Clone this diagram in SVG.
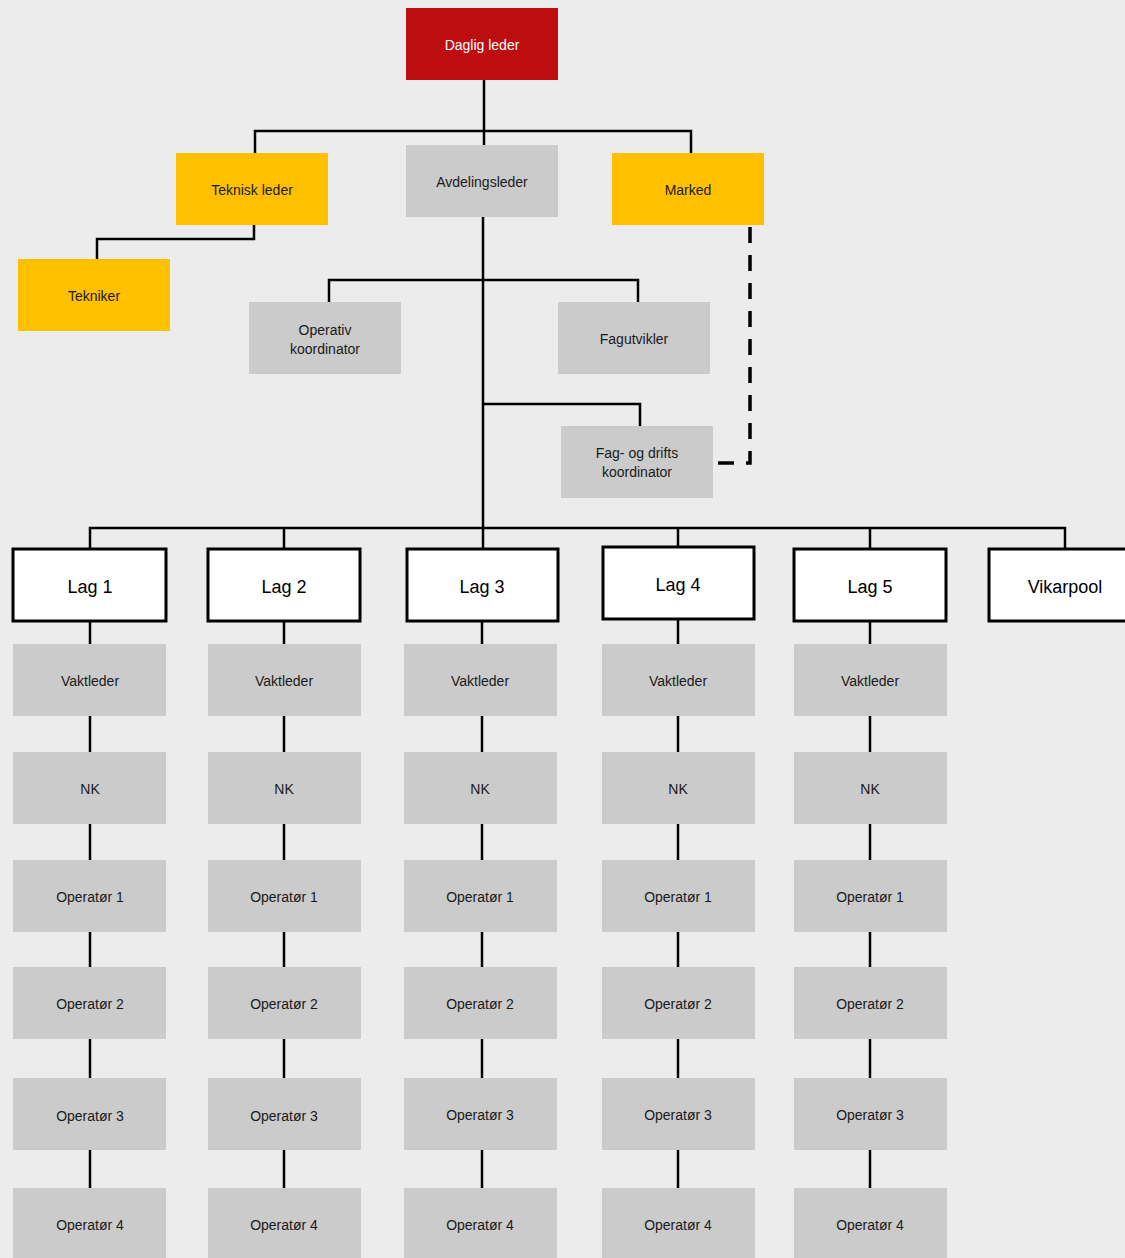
<svg xmlns="http://www.w3.org/2000/svg" width="1125" height="1258" viewBox="0 0 1125 1258">
<defs>
<style>
.bg{fill:#ececec}
.ln{fill:none;stroke:#000;stroke-width:2.5}
.dash{fill:none;stroke:#000;stroke-width:3.5;stroke-dasharray:16 12}
.red{fill:#bc0e10}
.yel{fill:#ffc000}
.gry{fill:#cbcbcb}
.lag{fill:#fff;stroke:#000;stroke-width:3}
.t{font-family:"Liberation Sans",Arial,sans-serif;font-size:14px;fill:#1a1a1a;text-anchor:middle}
.tw{fill:#fff}
.tl{font-family:"Liberation Sans",Arial,sans-serif;font-size:18px;fill:#000;text-anchor:middle}
</style>
</defs>
<rect class="bg" x="0" y="0" width="1125" height="1258"/>
<g id="connectors">
<path class="ln" d="M484,80 V145 M255,153 V131 H691 V153"/>
<path class="ln" d="M254,225 V239 H97 V259"/>
<path class="ln" d="M483,217 V549"/>
<path class="ln" d="M329,302 V280 H638 V302"/>
<path class="ln" d="M483,404 H640 V426"/>
<path class="dash" d="M750,227 V463 H718"/>
<path class="ln" d="M90,549 V528 H1065 V549 M284,528 V549 M678,528 V547 M870,528 V549"/>
<path class="ln" d="M90,621 V1188 M284,621 V1188 M482,621 V1188 M678,619 V1188 M870,621 V1188"/>
</g>
<g id="daglig-leder"><rect class="red" x="406" y="8" width="152" height="72"/><text class="t tw" x="482" y="50">Daglig leder</text></g>
<g id="teknisk-leder"><rect class="yel" x="176" y="153" width="152" height="72"/><text class="t" x="252" y="195">Teknisk leder</text></g>
<g id="avdelingsleder"><rect class="gry" x="406" y="145" width="152" height="72"/><text class="t" x="482" y="187">Avdelingsleder</text></g>
<g id="marked"><rect class="yel" x="612" y="153" width="152" height="72"/><text class="t" x="688" y="195">Marked</text></g>
<g id="tekniker"><rect class="yel" x="18" y="259" width="152" height="72"/><text class="t" x="94" y="301">Tekniker</text></g>
<g id="operativ-koordinator"><rect class="gry" x="249" y="302" width="152" height="72"/><text class="t" x="325" y="335">Operativ</text><text class="t" x="325" y="354">koordinator</text></g>
<g id="fagutvikler"><rect class="gry" x="558" y="302" width="152" height="72"/><text class="t" x="634" y="344">Fagutvikler</text></g>
<g id="fag-og-drifts-koordinator"><rect class="gry" x="561" y="426" width="152" height="72"/><text class="t" x="637" y="458">Fag- og drifts</text><text class="t" x="637" y="477">koordinator</text></g>
<g id="lag1"><rect class="lag" x="13" y="549" width="153" height="72"/><text class="tl" x="90" y="593">Lag 1</text></g>
<g id="lag2"><rect class="lag" x="208" y="549" width="152" height="72"/><text class="tl" x="284" y="593">Lag 2</text></g>
<g id="lag3"><rect class="lag" x="407" y="549" width="151" height="72"/><text class="tl" x="482" y="593">Lag 3</text></g>
<g id="lag4"><rect class="lag" x="603" y="547" width="151" height="72"/><text class="tl" x="678" y="591">Lag 4</text></g>
<g id="lag5"><rect class="lag" x="794" y="549" width="152" height="72"/><text class="tl" x="870" y="593">Lag 5</text></g>
<g id="vikarpool"><rect class="lag" x="989" y="549" width="150" height="72"/><text class="tl" x="1065" y="593">Vikarpool</text></g>
<g id="col1">
<g id="vaktleder1"><rect class="gry" x="13" y="644" width="153" height="72"/><text class="t" x="90" y="686">Vaktleder</text></g>
<g id="nk1"><rect class="gry" x="13" y="752" width="153" height="72"/><text class="t" x="90" y="794">NK</text></g>
<g id="op1-1"><rect class="gry" x="13" y="860" width="153" height="72"/><text class="t" x="90" y="902">Operatør 1</text></g>
<g id="op1-2"><rect class="gry" x="13" y="967" width="153" height="72"/><text class="t" x="90" y="1009">Operatør 2</text></g>
<g id="op1-3"><rect class="gry" x="13" y="1078" width="153" height="72"/><text class="t" x="90" y="1121">Operatør 3</text></g>
<g id="op1-4"><rect class="gry" x="13" y="1188" width="153" height="72"/><text class="t" x="90" y="1230">Operatør 4</text></g>
</g>
<g id="col2">
<g id="vaktleder2"><rect class="gry" x="208" y="644" width="153" height="72"/><text class="t" x="284" y="686">Vaktleder</text></g>
<g id="nk2"><rect class="gry" x="208" y="752" width="153" height="72"/><text class="t" x="284" y="794">NK</text></g>
<g id="op2-1"><rect class="gry" x="208" y="860" width="153" height="72"/><text class="t" x="284" y="902">Operatør 1</text></g>
<g id="op2-2"><rect class="gry" x="208" y="967" width="153" height="72"/><text class="t" x="284" y="1009">Operatør 2</text></g>
<g id="op2-3"><rect class="gry" x="208" y="1078" width="153" height="72"/><text class="t" x="284" y="1121">Operatør 3</text></g>
<g id="op2-4"><rect class="gry" x="208" y="1188" width="153" height="72"/><text class="t" x="284" y="1230">Operatør 4</text></g>
</g>
<g id="col3">
<g id="vaktleder3"><rect class="gry" x="404" y="644" width="153" height="72"/><text class="t" x="480" y="686">Vaktleder</text></g>
<g id="nk3"><rect class="gry" x="404" y="752" width="153" height="72"/><text class="t" x="480" y="794">NK</text></g>
<g id="op3-1"><rect class="gry" x="404" y="860" width="153" height="72"/><text class="t" x="480" y="902">Operatør 1</text></g>
<g id="op3-2"><rect class="gry" x="404" y="967" width="153" height="72"/><text class="t" x="480" y="1009">Operatør 2</text></g>
<g id="op3-3"><rect class="gry" x="404" y="1078" width="153" height="72"/><text class="t" x="480" y="1120">Operatør 3</text></g>
<g id="op3-4"><rect class="gry" x="404" y="1188" width="153" height="72"/><text class="t" x="480" y="1230">Operatør 4</text></g>
</g>
<g id="col4">
<g id="vaktleder4"><rect class="gry" x="602" y="644" width="153" height="72"/><text class="t" x="678" y="686">Vaktleder</text></g>
<g id="nk4"><rect class="gry" x="602" y="752" width="153" height="72"/><text class="t" x="678" y="794">NK</text></g>
<g id="op4-1"><rect class="gry" x="602" y="860" width="153" height="72"/><text class="t" x="678" y="902">Operatør 1</text></g>
<g id="op4-2"><rect class="gry" x="602" y="967" width="153" height="72"/><text class="t" x="678" y="1009">Operatør 2</text></g>
<g id="op4-3"><rect class="gry" x="602" y="1078" width="153" height="72"/><text class="t" x="678" y="1120">Operatør 3</text></g>
<g id="op4-4"><rect class="gry" x="602" y="1188" width="153" height="72"/><text class="t" x="678" y="1230">Operatør 4</text></g>
</g>
<g id="col5">
<g id="vaktleder5"><rect class="gry" x="794" y="644" width="153" height="72"/><text class="t" x="870" y="686">Vaktleder</text></g>
<g id="nk5"><rect class="gry" x="794" y="752" width="153" height="72"/><text class="t" x="870" y="794">NK</text></g>
<g id="op5-1"><rect class="gry" x="794" y="860" width="153" height="72"/><text class="t" x="870" y="902">Operatør 1</text></g>
<g id="op5-2"><rect class="gry" x="794" y="967" width="153" height="72"/><text class="t" x="870" y="1009">Operatør 2</text></g>
<g id="op5-3"><rect class="gry" x="794" y="1078" width="153" height="72"/><text class="t" x="870" y="1120">Operatør 3</text></g>
<g id="op5-4"><rect class="gry" x="794" y="1188" width="153" height="72"/><text class="t" x="870" y="1230">Operatør 4</text></g>
</g>
</svg>
